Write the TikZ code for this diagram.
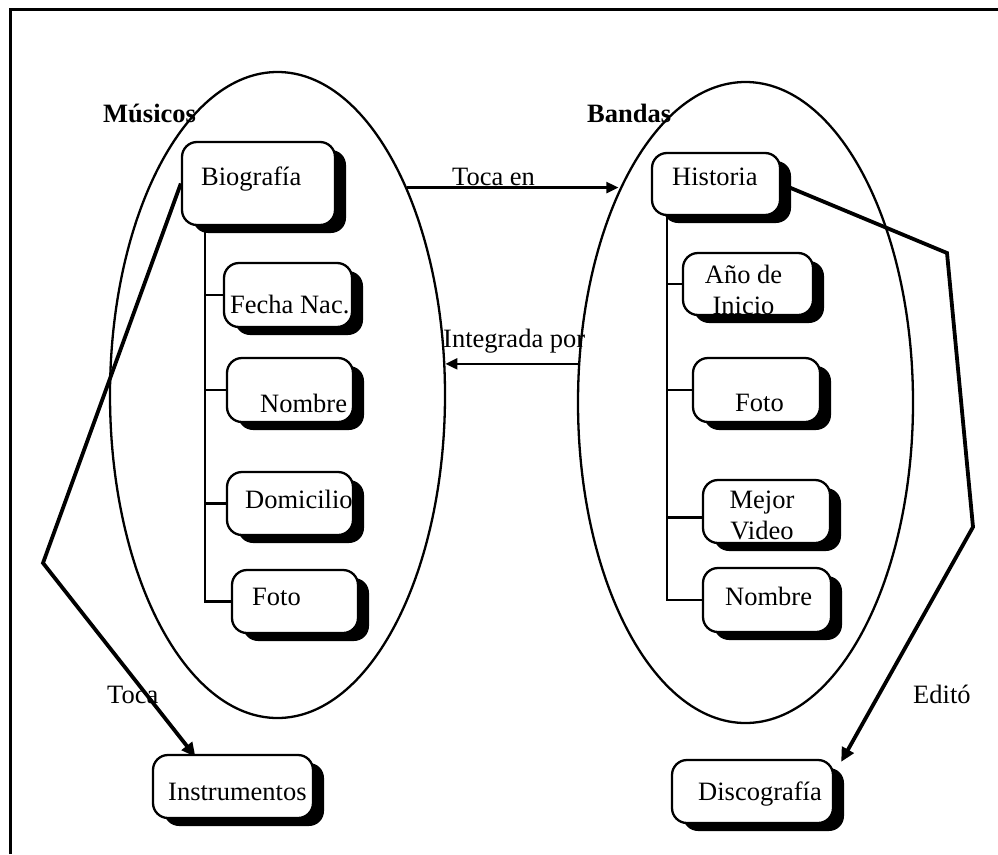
\documentclass[tikz,border=0pt]{standalone}
\usepackage{fontspec}
\setmainfont{Liberation Serif}
\usetikzlibrary{shapes.geometric,shadows,arrows.meta,backgrounds}
\begin{document}
\begin{tikzpicture}[x=1pt,y=-1pt,
  txt/.style={font=\fontsize{26.5}{30}\selectfont, inner sep=0pt, anchor=base west},
  ttl/.style={txt, font=\fontsize{26.5}{30}\selectfont\bfseries},
  twoline/.style={font=\fontsize{26.5}{30.5}\selectfont, inner sep=0pt, align=center, anchor=north},
  group/.style={draw, ellipse, line width=2.3pt, minimum width=335pt, inner sep=0pt},
  field/.style={draw, fill=white, line width=2.3pt, rounded corners=15pt, inner sep=0pt,
    drop shadow={shadow xshift=11pt, shadow yshift=-8pt, fill=black, opacity=1}},
  branch/.style={line width=2.3pt},
  rel/.style={line width=2.3pt, -{Triangle[length=12pt,width=11pt]}},
  link/.style={line width=3.8pt, line join=miter, -{Triangle[length=14pt,width=13pt]}}
]
\useasboundingbox (0,0) rectangle (998,854);

% frame (top and left edges)
\draw[line width=3pt] (10,854) -- (10,9) -- (998,9);

% the two groups
\node[group, minimum height=646pt] (musicos) at (277.5,395) {};
\node[group, minimum height=641pt] (bandas) at (745.5,402.5) {};
\node[ttl] (tMusicos) at (103,122) {Músicos};
\node[ttl] (tBandas) at (587,122) {Bandas};

% fields of Músicos
\node[field, minimum width=153pt, minimum height=83pt] (bio) at (258.5,183.5) {};
\node[field, minimum width=128pt, minimum height=64pt] (fecha) at (288,295) {};
\node[field, minimum width=126pt, minimum height=64pt] (nomL) at (290,390) {};
\node[field, minimum width=126pt, minimum height=63pt] (domi) at (290,503.5) {};
\node[field, minimum width=126pt, minimum height=63pt] (fotoL) at (295,601.5) {};
\node[field, minimum width=160pt, minimum height=63pt] (instr) at (233,786.5) {};

% fields of Bandas
\node[field, minimum width=128pt, minimum height=62pt] (hist) at (716,184) {};
\node[field, minimum width=130pt, minimum height=62pt] (anio) at (748,284) {};
\node[field, minimum width=127pt, minimum height=64pt] (fotoR) at (756.5,390) {};
\node[field, minimum width=127pt, minimum height=63pt] (mejor) at (766.5,511.5) {};
\node[field, minimum width=128pt, minimum height=64pt] (nomR) at (767,600) {};
\node[field, minimum width=161pt, minimum height=63pt] (disco) at (752.5,791.5) {};

% field texts
\node[txt] (tBio) at (201,185) {Biografía};
\node[txt] (tFecha) at (230,313) {Fecha Nac.};
\node[txt] (tNomL) at (260,412) {Nombre};
\node[txt] (tDomi) at (245,508) {Domicilio};
\node[txt] (tFotoL) at (252,605) {Foto};
\node[txt] (tInstr) at (168,800) {Instrumentos};
\node[txt] (tHist) at (672,185) {Historia};
\node[twoline] (tAnio) at (743.5,265) {Año de\\Inicio};
\node[txt] (tFotoR) at (735,411) {Foto};
\node[twoline] (tMejor) at (762,491) {Mejor\\Video};
\node[txt] (tNomR) at (725,605) {Nombre};
\node[txt] (tDisco) at (698,800) {Discografía};

% relation labels
\node[txt] (tTocaEn) at (452,185) {Toca en};
\node[txt] (tIntegr) at (443,347) {Integrada por};
\node[txt] (tToca) at (107,703) {Toca};
\node[txt] (tEdito) at (913,703) {Editó};

% trunk positions and bend points of the long connectors
\coordinate (trunkL) at (205,0);
\coordinate (trunkR) at (667,0);
\coordinate (tocaBend) at (43,563);
\coordinate (editoBendA) at (947,253);
\coordinate (editoBendB) at (973,527);

\begin{scope}[on background layer]
  % attribute trees
  \draw[branch] (bio.south -| trunkL) -- (trunkL |- fotoL.west) -- (fotoL.west);
  \draw[branch] (trunkL |- fecha.west) -- (fecha.west);
  \draw[branch] (trunkL |- nomL.west) -- (nomL.west);
  \draw[branch] (trunkL |- domi.west) -- (domi.west);
  \draw[branch] (hist.south -| trunkR) -- (trunkR |- nomR.west) -- (nomR.west);
  \draw[branch] (trunkR |- anio.west) -- (anio.west);
  \draw[branch] (trunkR |- fotoR.west) -- (fotoR.west);
  \draw[branch] ([yshift=-6pt]trunkR |- mejor.west) -- ([yshift=-6pt]mejor.west);

  % relations between the groups
  \draw[rel] (musicos.58) -- (musicos.58 -| bandas.121);
  \draw[rel] (bandas.167) -- (bandas.167 -| musicos.10.5);

  % Toca and Editó
  \draw[link] (bio.west) -- (tocaBend) -- ([shift={(0pt,-3pt)}]instr.139);
  \draw[link] (hist.east) -- (editoBendA) -- (editoBendB) -- ([shift={(7pt,-3pt)}]disco.north east);
\end{scope}
\end{tikzpicture}
\end{document}
